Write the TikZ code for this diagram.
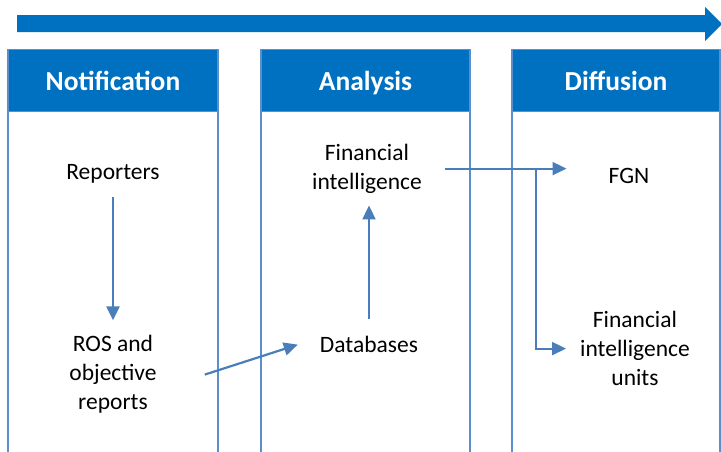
\documentclass[tikz,border=0pt]{standalone}
\usepackage{fontspec}
\setmainfont{Carlito}
\usetikzlibrary{arrows.meta}
\definecolor{flowblue}{HTML}{0070C0}
\definecolor{edgeblue}{HTML}{5B8FCB}
\definecolor{linkblue}{HTML}{4A7EBB}
\tikzstyle{column} = [rectangle, anchor = north, minimum width = 210pt, minimum height = 420pt, draw = edgeblue, line width = 1.2pt]
\tikzstyle{header} = [rectangle, anchor = north, minimum width = 210pt, minimum height = 62pt, text height = 20pt, text depth = 0pt, draw = edgeblue, line width = 1.2pt, fill = flowblue, text = white, font = \fontsize{27.5}{33}\selectfont\bfseries]
\tikzstyle{entry} = [inner sep = 0pt, align = center, font = \fontsize{23.5}{29}\selectfont]
\tikzstyle{arrow} = [line width = 2.2pt, draw = linkblue, -{Triangle[length=14pt,width=13pt]}]

\begin{document}
\begin{tikzpicture}[x = 1pt, y = -1pt]
\useasboundingbox (0,0) rectangle (721,451);
\clip (0,0) rectangle (721,451);

\fill [flowblue] (17,15) -- (705,15) -- (705,7) -- (722,24) -- (705,41) -- (705,32) -- (17,32) -- cycle;

\node(notifcol) [column] at (113,49) {};
\node(analcol) [column, minimum width = 209pt] at (365.5,49) {};
\node(diffcol) [column, minimum width = 208pt] at (616,49) {};

\node(notif) [header] at (113,49) {Notification};
\node(analysis) [header, minimum width = 209pt] at (365.5,49) {Analysis};
\node(diffusion) [header, minimum width = 208pt] at (616,49) {Diffusion};

\node(reporters) [entry, below of = notif, node distance = 93pt] {Reporters};
\node(ros) [entry, below of = reporters, node distance = 201pt] {ROS and\\objective\\reports};
\node(finintel) [entry, below of = analysis, node distance = 88pt, xshift = 1.5pt] {Financial\\intelligence};
\node(db) [entry, below of = finintel, node distance = 176pt, xshift = 2pt] {Databases};
\node(fgn) [entry, below of = diffusion, node distance = 95pt, xshift = 13pt] {FGN};
\node(fiu) [entry, below of = fgn, node distance = 173pt, xshift = 6pt] {Financial\\intelligence\\units};

\coordinate(fgnin) at ([xshift = -42pt]fgn.west);
\coordinate(split) at ([xshift = 114pt]finintel.east);

\draw [arrow, shorten <= 14pt, shorten >= 15pt] (reporters) -- (ros);
\draw [arrow] ([xshift = 48pt]ros.east) -- ([xshift = -22pt]db.west);
\draw [arrow, shorten <= 17pt, shorten >= 12pt] (db.north) -- (db.north |- finintel.south);
\draw [arrow] ([xshift = 23pt]finintel.east) -- (fgnin |- finintel.east);
\draw [arrow] (split) |- ([xshift = -14pt]fiu.west);

\end{tikzpicture}
\end{document}
